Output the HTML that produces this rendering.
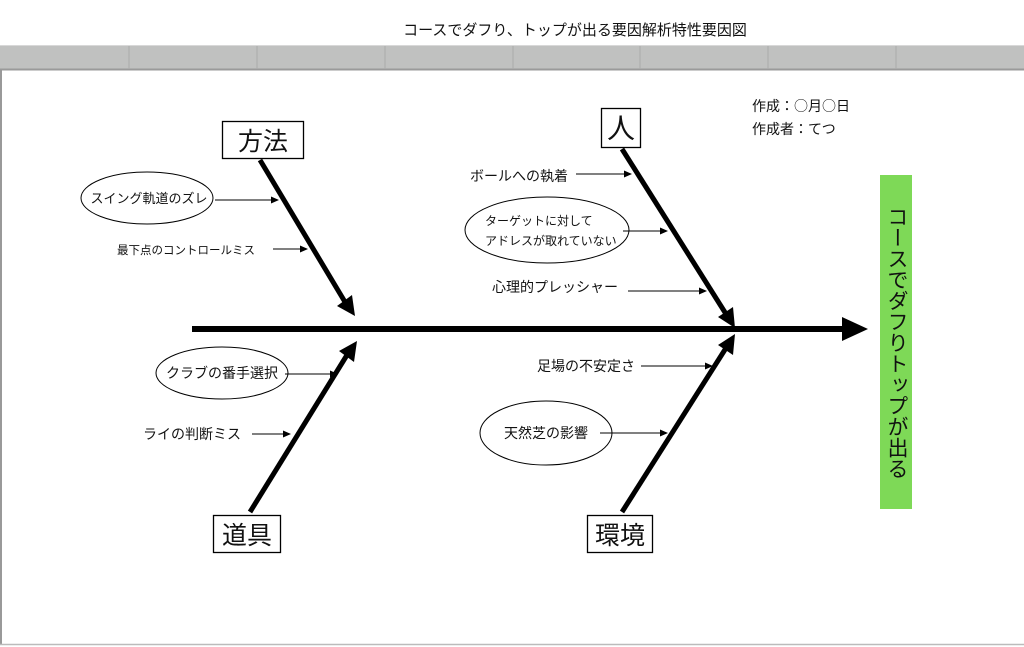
<!DOCTYPE html>
<html><head><meta charset="utf-8"><style>
html,body{margin:0;padding:0;background:#fff;}
body{width:1024px;height:647px;position:relative;overflow:hidden;font-family:"Liberation Sans","Noto Sans CJK JP",sans-serif;}
.abs{position:absolute;}
svg text{font-family:"Liberation Sans","Noto Sans CJK JP",sans-serif;fill:#111;}
</style></head><body>
<svg class="abs" style="left:0;top:0" width="1024" height="647" viewBox="0 0 1024 647">
<defs>
<marker id="a" markerWidth="8" markerHeight="8" refX="7" refY="4" orient="auto" markerUnits="userSpaceOnUse"><path d="M0,0.5 L8,4 L0,7.5z" fill="#000"/></marker>
</defs>
<text x="575" y="35" font-size="15" text-anchor="middle">コースでダフり、トップが出る要因解析特性要因図</text>
<rect x="0" y="45" width="1024" height="25" fill="#c0c1c0"/>
<line x1="0" y1="45.5" x2="1024" y2="45.5" stroke="#d8d8d8"/>
<line x1="0" y1="69.5" x2="1024" y2="69.5" stroke="#9a9a9a" stroke-width="2"/>
<g stroke="#aaa" stroke-width="1">
<line x1="129" y1="46" x2="129" y2="69"/><line x1="257" y1="46" x2="257" y2="69"/><line x1="385" y1="46" x2="385" y2="69"/><line x1="513" y1="46" x2="513" y2="69"/><line x1="640" y1="46" x2="640" y2="69"/><line x1="768" y1="46" x2="768" y2="69"/><line x1="896" y1="46" x2="896" y2="69"/>
</g>
<line x1="1" y1="70" x2="1" y2="645" stroke="#999" stroke-width="2"/>
<line x1="0" y1="644.5" x2="1024" y2="644.5" stroke="#bbb" stroke-width="1.5"/>

<line x1="192" y1="329" x2="845" y2="329" stroke="#000" stroke-width="6"/>
<path d="M842,317 L868,329 L842,341z" fill="#000"/>

<g stroke="#000" stroke-width="5">
<line x1="260" y1="160" x2="345" y2="302"/>
<line x1="622" y1="149" x2="726" y2="314"/>
<line x1="250" y1="512" x2="347" y2="355"/>
<line x1="622" y1="512" x2="726" y2="348"/>
</g>
<path d="M337,306 L355,316 L352,295z" fill="#000"/>
<path d="M718,317 L735,328 L733,307z" fill="#000"/>
<path d="M339,351 L357,341 L354,362z" fill="#000"/>
<path d="M718,345 L735,334 L733,355z" fill="#000"/>

<g fill="#fff" stroke="#000" stroke-width="1.3">
<rect x="222.5" y="121.5" width="81" height="37"/>
<rect x="601.5" y="108.5" width="39" height="39"/>
<rect x="213.5" y="515.5" width="67" height="37"/>
<rect x="587.5" y="515.5" width="65" height="37"/>
</g>
<text x="263" y="150" font-size="25" text-anchor="middle">方法</text>
<text x="621" y="138" font-size="28" text-anchor="middle">人</text>
<text x="247" y="544" font-size="25" text-anchor="middle">道具</text>
<text x="620" y="544" font-size="25" text-anchor="middle">環境</text>

<g fill="#fff" stroke="#000" stroke-width="1">
<ellipse cx="147" cy="198" rx="66" ry="26"/>
<ellipse cx="547" cy="230" rx="82" ry="33"/>
<ellipse cx="222" cy="373" rx="66" ry="26"/>
<ellipse cx="546" cy="433" rx="66" ry="32"/>
</g>
<g font-size="13">
<text x="149" y="203" text-anchor="middle">スイング軌道のズレ</text>
<text x="117" y="254" font-size="11.5">最下点のコントロールミス</text>
<text x="470" y="181" font-size="14">ボールへの執着</text>
<text x="485" y="225" font-size="12">ターゲットに対して</text>
<text x="485" y="245" font-size="12">アドレスが取れていない</text>
<text x="492" y="292" font-size="14">心理的プレッシャー</text>
<text x="222" y="378" font-size="14" text-anchor="middle">クラブの番手選択</text>
<text x="143" y="439" font-size="14">ライの判断ミス</text>
<text x="537" y="371" font-size="14">足場の不安定さ</text>
<text x="546" y="438" font-size="14" text-anchor="middle">天然芝の影響</text>
</g>
<g stroke="#000" stroke-width="1" marker-end="url(#a)">
<line x1="215" y1="200" x2="278" y2="200"/>
<line x1="273" y1="249" x2="307" y2="249"/>
<line x1="576" y1="174" x2="631" y2="174"/>
<line x1="623" y1="231" x2="667" y2="231"/>
<line x1="628" y1="291" x2="706" y2="291"/>
<line x1="285" y1="374" x2="337" y2="374"/>
<line x1="252" y1="434" x2="290" y2="434"/>
<line x1="641" y1="366" x2="712" y2="366"/>
<line x1="600" y1="433" x2="667" y2="433"/>
</g>

<text x="752" y="111" font-size="14" style="font-family:'Noto Sans CJK JP',sans-serif">作成：○月○日</text>
<text x="752" y="134" font-size="14" style="font-family:'Noto Sans CJK JP',sans-serif">作成者：てつ</text>

<rect x="880" y="175" width="32" height="334" fill="#7ed957"/>
</svg>
<div class="abs" style="left:880px;top:206px;width:32px;height:290px;writing-mode:vertical-rl;font-size:21px;line-height:32px;color:#111;">コースでダフりトップが出る</div>
</body></html>
